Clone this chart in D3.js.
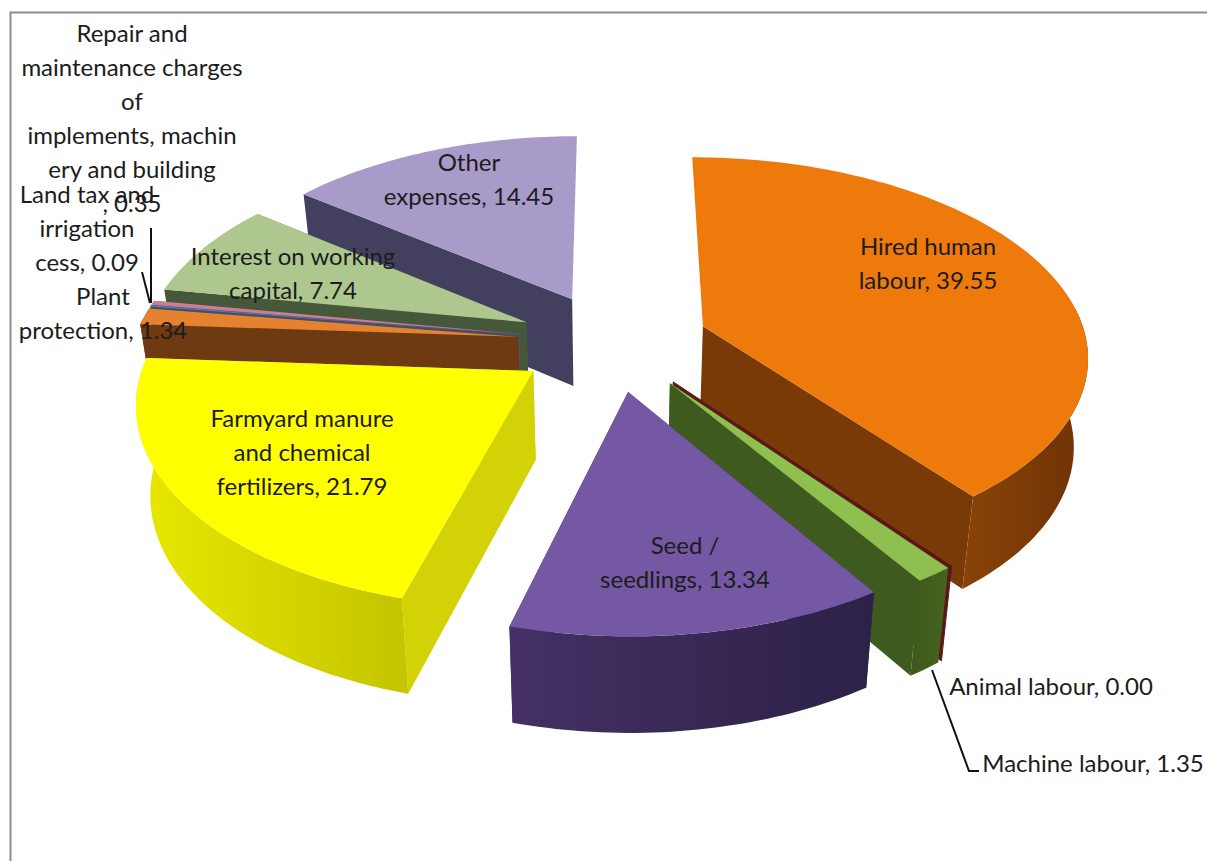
<!DOCTYPE html>
<html><head><meta charset="utf-8">
<script src="https://cdnjs.cloudflare.com/ajax/libs/d3/7.8.5/d3.min.js"></script>
<style>html,body{margin:0;padding:0;background:#fff}svg{display:block}text{font-family:Lato,"Open Sans",sans-serif;fill:#1c1c1c}</style>
</head><body><svg id="c" width="1207" height="861"></svg>
<script>
const categories=["Hired human labour","Animal labour","Machine labour","Seed / seedlings","Farmyard manure and chemical fertilizers","Plant protection","Land tax and irrigation cess","Repair and maintenance charges of implements, machinery and building","Interest on working capital","Other expenses"];
const values=[39.55,0.00,1.35,13.34,21.79,1.34,0.09,0.35,7.74,14.45];
const topColors=["#EE7A0C","#C0504D","#8FBF4F","#7558A3","#FFFF00","#E5822F","#5B7DB5","#C77F96","#AEC78E","#A99BC9"];
const wallColors=["#7A3A08","#5a1818","#3F5A1E","#3C2A5E","#D2D206","#6E3A12","#3c5070","#805060","#46583A","#43405F"];
const outerColors=[["#6E3206","#8A4308"],["#6a2020","#6a2020"],["#46641F","#3E581C"],["#443065","#2C2146"],["#E8E800","#C4C400"],["#6E3A12","#6E3A12"],["#3c5070","#3c5070"],["#805060","#805060"],["#46583A","#46583A"],["#43405F","#43405F"]];
const paintOrder=[9,8,7,6,5,4,0,1,2,3];
const hiddenStartWall=[0];
const hiddenEndWall=[9];
const labelLines=[["Hired human","labour, 39.55"],["Animal labour, 0.00"],["Machine labour, 1.35"],["Seed /","seedlings, 13.34"],["Farmyard manure","and chemical","fertilizers, 21.79"],["Plant","protection, 1.34"],["Land tax and","irrigation","cess, 0.09"],["Repair and","maintenance charges","of","implements, machin","ery and building",", 0.35"],["Interest on working","capital, 7.74"],["Other","expenses, 14.45"]];
const labelAnchor=[[928,255],[1051,695],[1093,772],[685,554],[302,427],[103,305],[87,203],[132,42],[293,265],[469,171]];
const leaderLines=[[[932,670],[969,771],[979,771]],[[151,228],[151,303]],[[142,272],[150,303]]];

const svg=d3.select("#c"),defs=svg.append("defs");
const cx=613,cy=342,a0=384,b0=196,persp=.136,depth=88,shrink=.97,explode=.25;
const radius=d3.scaleLinear().domain([0,1]).range([0,1]);
const pie=d3.pie().sort(null).value(d=>d);
const arcs=pie(values);
const line=d3.line();
function proj(X,Z,low){
  const w=1-persp*Z;
  let x=cx+a0*X/w,y=cy+b0*Z/w;
  if(low){x=cx+(x-cx)*shrink;y+=depth/Math.sqrt(w);}
  return [x,y];
}
function pt(d,ang,r,low){
  const mid=(d.startAngle+d.endAngle)/2;
  const X=explode*Math.sin(mid)+radius(r)*Math.sin(ang);
  const Z=-explode*Math.cos(mid)-radius(r)*Math.cos(ang);
  return proj(X,Z,low);
}
function arcAngles(d){
  const n=Math.max(2,Math.ceil((d.endAngle-d.startAngle)/0.02));
  return d3.range(n+1).map(i=>d.startAngle+(d.endAngle-d.startAngle)*i/n);
}
svg.append("path").attr("d",line([[10.5,861],[10.5,12.5],[1207,12.5]])).attr("fill","none").attr("stroke","#8c8c8c").attr("stroke-width",2);
const g=svg.append("g");
paintOrder.forEach(i=>{
  const d=arcs[i];
  const quad=(ang)=>[pt(d,ang,0),pt(d,ang,1),pt(d,ang,1,true),pt(d,ang,0,true)];
  if(d.endAngle-d.startAngle<=0){
    g.append("path").attr("d",line(quad(d.startAngle))+"Z").attr("fill",wallColors[i]).attr("stroke",wallColors[i]).attr("stroke-width",1);
    return;
  }
  const as=arcAngles(d);
  if(!hiddenStartWall.includes(i)) g.append("path").attr("d",line(quad(d.startAngle))+"Z").attr("fill",wallColors[i]);
  if(!hiddenEndWall.includes(i)) g.append("path").attr("d",line(quad(d.endAngle))+"Z").attr("fill",wallColors[i]);
  const gid="o"+i;
  const grad=defs.append("linearGradient").attr("id",gid);
  grad.append("stop").attr("offset","0%").attr("stop-color",outerColors[i][i==3||i==4?0:1]);
  grad.append("stop").attr("offset","100%").attr("stop-color",outerColors[i][i==3||i==4?1:0]);
  const front=as.filter(a=>Math.cos(a)<0.1);
  if(front.length>1){
    const topF=front.map(a=>pt(d,a,1));
    const botF=front.map(a=>pt(d,a,1,true)).reverse();
    g.append("path").attr("d",line(topF.concat(botF))+"Z").attr("fill",`url(#${gid})`);
  }
  const poly=[pt(d,d.startAngle,0)].concat(as.map(a=>pt(d,a,1)));
  g.append("path").attr("d",line(poly)+"Z").attr("fill",topColors[i]);
});
leaderLines.forEach(l=>svg.append("path").attr("d",line(l)).attr("fill","none").attr("stroke","#111").attr("stroke-width",2));
const fs=24,lh=34;
labelLines.forEach((ls,i)=>{
  const t=svg.append("text").attr("text-anchor","middle").attr("font-size",fs);
  ls.forEach((s,j)=>t.append("tspan").attr("x",labelAnchor[i][0]).attr("y",labelAnchor[i][1]+j*lh).text(s));
});
</script></body></html>
